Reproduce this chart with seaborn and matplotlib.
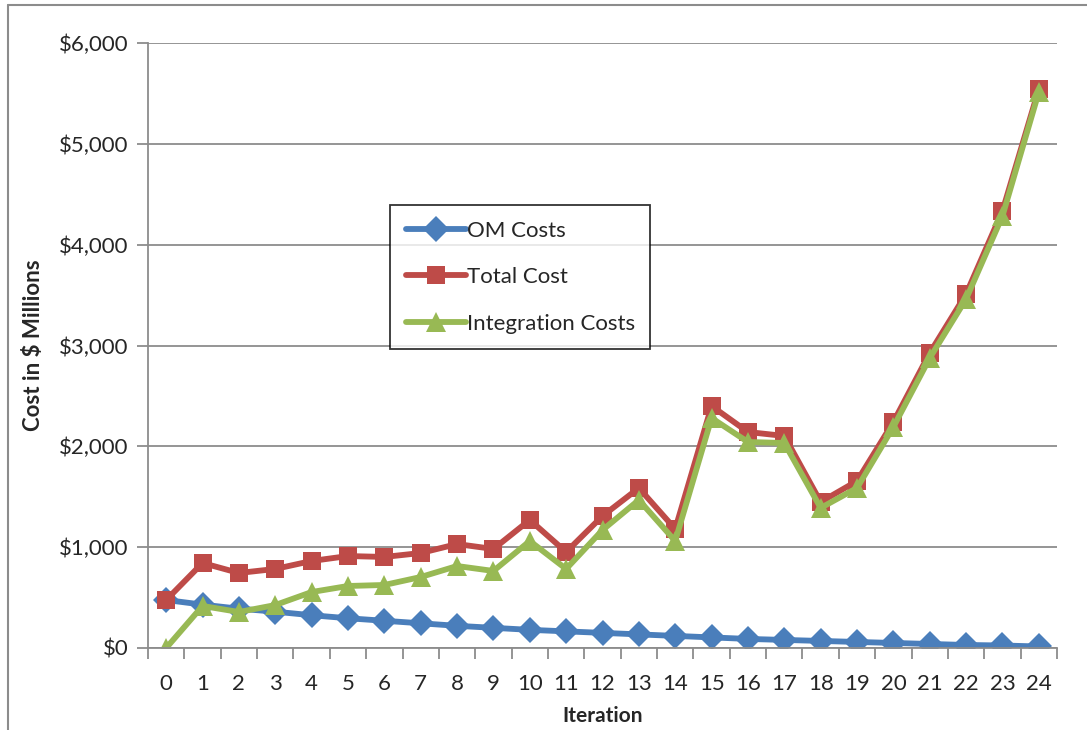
import matplotlib
matplotlib.use("Agg")
import matplotlib.pyplot as plt
from matplotlib.ticker import FuncFormatter, FixedLocator
from matplotlib.lines import Line2D
import pandas as pd
import seaborn as sns

# Values ($ millions)
iterations = list(range(25))
om_costs = [476, 430, 390, 360, 325, 295, 270, 245, 220, 200, 180, 165, 150,
            135, 120, 105, 90, 80, 70, 60, 50, 40, 30, 25, 15]
total_cost = [476, 843, 744, 784, 863, 912, 903, 942, 1031, 982, 1270, 952, 1309,
              1587, 1180, 2400, 2142, 2103, 1448, 1656, 2241, 2926, 3511, 4334, 5544]
integration_costs = [0, 417, 357, 426, 555, 615, 625, 704, 813, 764, 1061, 784, 1170,
                     1468, 1061, 2281, 2043, 2033, 1389, 1587, 2192, 2876, 3461, 4284, 5514]

df = pd.DataFrame({"iteration": iterations, "OM Costs": om_costs,
                   "Total Cost": total_cost, "Integration Costs": integration_costs})

sns.set_theme(style="white")
plt.rcParams["font.family"] = ["Lato", "DejaVu Sans"]

fig = plt.figure(figsize=(10.87, 7.30), dpi=100)
ax = fig.add_axes([148 / 1087, 1 - 648 / 730, (1057 - 148) / 1087, (648 - 43) / 730])

series = [
    ("OM Costs", "#4A7EBB", "D", 13),
    ("Total Cost", "#BE4B48", "s", 13),
    ("Integration Costs", "#98B954", "^", 15),
]
for name, color, marker, msize in series:
    sns.lineplot(data=df, x="iteration", y=name, ax=ax, color=color, marker=marker,
                 markersize=msize, markeredgewidth=0, linewidth=4.2, label=name)

ax.set_xlim(-0.5, 24.5)
ax.set_ylim(0, 6000)
ax.set_yticks(range(0, 6001, 1000))
ax.yaxis.set_major_formatter(FuncFormatter(lambda v, p: "\\$" + f"{int(v):,}"))
ax.grid(axis="y", color="#8C8C8C", linewidth=1.3)
ax.set_axisbelow(True)

# category labels at centers, tick marks between categories (Excel style)
ax.xaxis.set_major_locator(FixedLocator(iterations))
ax.set_xticklabels([str(i) for i in iterations])
ax.xaxis.set_minor_locator(FixedLocator([i - 0.5 for i in range(26)]))
ax.tick_params(axis="x", which="major", length=0, labelsize=16, pad=19)
ax.tick_params(axis="x", which="minor", length=8, width=1.3, color="#8C8C8C", direction="out", bottom=True)
ax.tick_params(axis="y", length=8, width=1.3, color="#8C8C8C", direction="out", left=True, labelsize=16, pad=6)

for side in ["top", "right"]:
    ax.spines[side].set_visible(False)
for side in ["left", "bottom"]:
    ax.spines[side].set_color("#8C8C8C")
    ax.spines[side].set_linewidth(1.3)

ax.set_xlabel("Iteration", fontsize=15, fontweight="bold", labelpad=8)
ax.set_ylabel("Cost in \\$ Millions", fontsize=16, fontweight="bold", labelpad=11)

leg = ax.legend(loc="upper left", bbox_to_anchor=((390 - 148) / 909, (648 - 205) / 605),
                fontsize=16, frameon=True, fancybox=False, edgecolor="black",
                labelspacing=1.2, handlelength=2.7, handletextpad=0.05, borderpad=0.7,
                borderaxespad=0)
leg.get_frame().set_linewidth(1.3)

# outer chart border (only top and left edges are visible in the crop)
top_y = 1 - 5 / 730
left_x = 8 / 1087
fig.add_artist(Line2D([left_x, 1], [top_y, top_y], transform=fig.transFigure,
                      color="#8C8C8C", linewidth=1.5))
fig.add_artist(Line2D([left_x, left_x], [0, top_y], transform=fig.transFigure,
                      color="#8C8C8C", linewidth=1.5))

fig.savefig("out.png", dpi=100)
